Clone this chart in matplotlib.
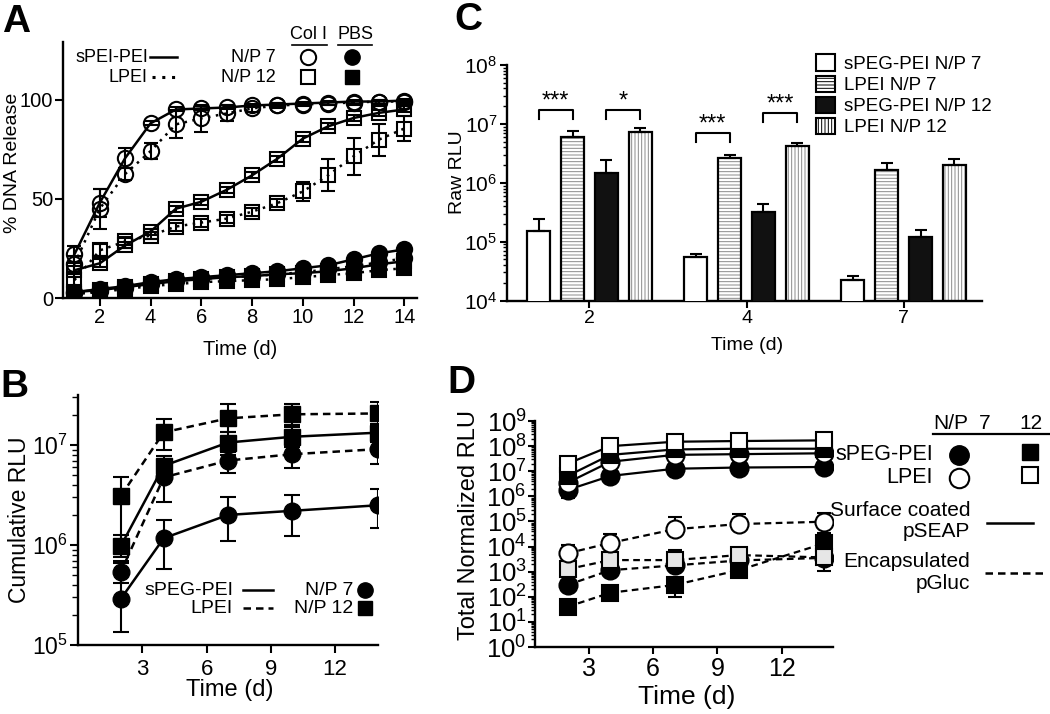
import numpy as np
import matplotlib
matplotlib.use('Agg')
import matplotlib.pyplot as plt
from matplotlib.ticker import LogLocator, NullFormatter

plt.rcParams['font.family'] = ['Liberation Sans', 'DejaVu Sans']
plt.rcParams['mathtext.fontset'] = 'custom'
plt.rcParams['mathtext.rm'] = 'Liberation Sans'
plt.rcParams['mathtext.it'] = 'Liberation Sans:italic'
plt.rcParams['mathtext.bf'] = 'Liberation Sans:bold'
plt.rcParams['hatch.linewidth'] = 0.7

# ---------------- data ----------------
# Panel A: % DNA release vs time
days_a = np.arange(1, 15)
coli_spei_np7 = [22, 48, 70.5, 88, 95, 95.5, 96, 97, 97.5, 98, 98.5, 99, 99, 99.5]
coli_spei_np7_err = [4, 7, 5, 1, 1, 1, 1, 1, 1, 1, 1, 1, 1, 1]
coli_lpei_np7 = [17, 45, 62.5, 74, 87.5, 90.5, 93, 95.5, 97, 97.5, 98, 98.5, 99, 99]
coli_lpei_np7_err = [4, 10, 3, 4, 7, 7, 4, 2, 1.5, 1, 1, 1, 1, 1]
coli_spei_np12 = [14, 17.5, 26.5, 33.5, 45, 48.5, 54.5, 61.8, 70.2, 80.3, 86.5, 90.7, 93.3, 95]
coli_spei_np12_err = [2, 2, 1.5, 1.5, 1.5, 1.5, 1.5, 1.5, 1.5, 1.5, 1.5, 1.5, 1.5, 1.5]
coli_lpei_np12 = [9, 24, 28.5, 31.5, 36, 38, 40, 43.5, 47.8, 53.7, 61.8, 71.4, 79.8, 85.4]
coli_lpei_np12_err = [3, 3, 2, 2, 2, 2, 2, 2, 2, 5, 8, 9.4, 8, 6.5]
pbs_spei_np7 = [3, 4.5, 6, 8, 9.5, 10.5, 11.5, 12.5, 13.5, 15, 16.5, 19.5, 22.5, 24.5]
pbs_lpei_np7 = [2.5, 3.5, 5, 7, 8.5, 9.5, 10.5, 11, 12, 13, 14.5, 16, 18, 20]
pbs_spei_np12 = [3, 4, 5.5, 7, 8.5, 9.5, 10.5, 11, 12, 12.5, 13.5, 15, 17, 18.5]
pbs_lpei_np12 = [2, 3, 4.5, 6, 7, 8, 8.5, 9, 9.5, 10.5, 11.5, 12.5, 14, 15]

# Panel B: cumulative RLU
days_b = [2, 4, 7, 10, 14]
b_spei_np7 = [2.9e5, 1.17e6, 2.0e6, 2.2e6, 2.5e6]
b_spei_np7_lo = [1.36e5, 5.8e5, 1.1e6, 1.24e6, 1.47e6]
b_spei_np7_hi = [6.6e5, 1.78e6, 3.0e6, 3.2e6, 3.6e6]
b_spei_np12 = [9.8e5, 6.2e6, 1.06e7, 1.21e7, 1.33e7]
b_spei_np12_lo = [7.6e5, 4.6e6, 8.0e6, 9.5e6, 1.08e7]
b_spei_np12_hi = [1.25e6, 7.8e6, 1.35e7, 1.5e7, 1.6e7]
b_lpei_np7 = [5.4e5, 4.75e6, 7.0e6, 8.1e6, 9.1e6]
b_lpei_np7_lo = [4.2e5, 2.7e6, 5.3e6, 5.9e6, 6.4e6]
b_lpei_np7_hi = [7.0e5, 6.2e6, 8.6e6, 9.6e6, 1.15e7]
b_lpei_np12 = [3.1e6, 1.34e7, 1.85e7, 2.03e7, 2.07e7]
b_lpei_np12_lo = [1.1e6, 8.9e6, 1.36e7, 1.58e7, 1.62e7]
b_lpei_np12_hi = [4.75e6, 1.82e7, 2.57e7, 2.6e7, 2.7e7]

# Panel C: raw RLU bars
c_days = ['2', '4', '7']
c_labels = ['sPEG-PEI N/P 7', 'LPEI N/P 7', 'sPEG-PEI N/P 12', 'LPEI N/P 12']
c_spei_np7 = [1.5e5, 5.4e4, 2.2e4]
c_spei_np7_err = [9e4, 7e3, 4e3]
c_lpei_np7 = [6.1e6, 2.6e6, 1.67e6]
c_lpei_np7_err = [1.4e6, 3.8e5, 5.3e5]
c_spei_np12 = [1.48e6, 3.2e5, 1.19e5]
c_spei_np12_err = [9.2e5, 1.2e5, 3.6e4]
c_lpei_np12 = [7.2e6, 4.2e6, 2.0e6]
c_lpei_np12_err = [1.3e6, 5e5, 5e5]
# significance: (group, bar a, bar b, log10 height, label)
c_sig = [(0, 0, 1, 7.23, '***'), (0, 2, 3, 7.23, '*'),
         (1, 0, 1, 6.84, '***'), (1, 2, 3, 7.18, '***')]

# Panel D: total normalized RLU
days_d = [2, 4, 7, 10, 14]
d_spei_np7_s = [1.8e6, 6.5e6, 1.26e7, 1.41e7, 1.48e7]
d_spei_np7_s_err = [9e5, 2.7e6, 2e6, 2e6, 2e6]
d_spei_np12_s = [6.5e6, 4.5e7, 7.4e7, 7.9e7, 7.9e7]
d_lpei_np7_s = [3.5e6, 2.4e7, 4.5e7, 4.8e7, 5.2e7]
d_lpei_np12_s = [2.0e7, 1.0e8, 1.5e8, 1.6e8, 1.7e8]
d_lpei_np7_e = [5.4e3, 1.4e4, 4.9e4, 7.9e4, 9.8e4]
d_lpei_np7_e_hi = [6.1e3, 1.7e4, 9.6e4, 1.16e5, 1.1e5]
d_lpei_np12_e = [1.26e3, 2.9e3, 2.9e3, 4.6e3, 3.7e3]
d_lpei_np12_e_lo = [0, 0, 0, 0, 2.6e3]
d_lpei_np12_e_hi = [0, 0, 4.3e3, 0, 0]
d_spei_np7_e = [295, 1150, 1780, 2800, 3550]
d_spei_np12_e = [40, 145, 295, 1150, 1.35e4]
d_spei_np12_e_lo = [0, 0, 200, 0, 0]
d_spei_np12_e_hi = [0, 0, 200, 0, 2e4]

# ---------------- figure ----------------
fig = plt.figure(figsize=(10.5, 7.14), dpi=100)


def style_axes(ax, fs, lw=1.7):
    for s in ['top', 'right']:
        ax.spines[s].set_visible(False)
    for s in ['left', 'bottom']:
        ax.spines[s].set_linewidth(lw)
    ax.tick_params(which='major', direction='out', width=1.5, length=5,
                   labelsize=fs, pad=2)
    ax.tick_params(which='minor', direction='out', width=1.0, length=3)


def key(ax, x, y, **kw):
    ax.plot(x, y, transform=ax.transAxes, clip_on=False, color='black', **kw)


DOT = (0, (1, 2.2))
DASH = (0, (3, 2))

# ----- A -----
axA = fig.add_axes([0.06, 0.5826, 0.3371, 0.3586])
eb = dict(color='black', lw=1.8, mec='black', mew=1.5, capsize=5,
          elinewidth=1.5, capthick=1.5)
axA.errorbar(days_a, pbs_lpei_np12, ls=DOT, marker='s', ms=10, mfc='black', **eb)
axA.errorbar(days_a, pbs_spei_np12, ls='-', marker='s', ms=10, mfc='black', **eb)
axA.errorbar(days_a, pbs_lpei_np7, ls=DOT, marker='o', ms=11, mfc='black', **eb)
axA.errorbar(days_a, pbs_spei_np7, ls='-', marker='o', ms=11, mfc='black', **eb)
axA.errorbar(days_a, coli_lpei_np12, yerr=coli_lpei_np12_err, ls=DOT, marker='s',
             ms=10, mfc='none', **eb)
axA.errorbar(days_a, coli_spei_np12, yerr=coli_spei_np12_err, ls='-', marker='s',
             ms=10, mfc='none', **eb)
axA.errorbar(days_a, coli_lpei_np7, yerr=coli_lpei_np7_err, ls=DOT, marker='o',
             ms=11, mfc='none', **eb)
axA.errorbar(days_a, coli_spei_np7, yerr=coli_spei_np7_err, ls='-', marker='o',
             ms=11, mfc='none', **eb)
axA.set_xlim(0.55, 14.5)
axA.set_ylim(0, 129)
axA.set_xticks([2, 4, 6, 8, 10, 12, 14])
axA.set_yticks([0, 50, 100])
style_axes(axA, 14.5)
axA.tick_params(which='major', length=6, pad=1)
axA.set_xlabel('Time (d)', fontsize=14.5)
axA.set_ylabel('% DNA Release', fontsize=14)
axA.xaxis.set_label_coords(0.5, -0.165)
axA.yaxis.set_label_coords(-0.12, 0.527)

# legend A
axA.text(0.240, 0.941, 'sPEI-PEI', ha='right', va='center', fontsize=13,
         transform=axA.transAxes)
axA.text(0.240, 0.863, 'LPEI', ha='right', va='center', fontsize=13,
         transform=axA.transAxes)
key(axA, [0.246, 0.322], [0.941, 0.941], lw=1.8)
key(axA, [0.251, 0.325], [0.863, 0.863], lw=2.2, ls=DOT)
axA.text(0.602, 0.941, 'N/P 7', ha='right', va='center', fontsize=13,
         transform=axA.transAxes)
axA.text(0.602, 0.863, 'N/P 12', ha='right', va='center', fontsize=13,
         transform=axA.transAxes)
key(axA, [0.692], [0.941], marker='o', ms=11, mfc='none', mew=1.5)
key(axA, [0.816], [0.941], marker='o', ms=11, mfc='black')
key(axA, [0.692], [0.863], marker='s', ms=10, mfc='none', mew=1.5)
key(axA, [0.816], [0.863], marker='s', ms=10, mfc='black')
axA.text(0.695, 0.995, 'Col I', ha='center', va='bottom', fontsize=13,
         transform=axA.transAxes)
axA.text(0.825, 0.995, 'PBS', ha='center', va='bottom', fontsize=13,
         transform=axA.transAxes)
key(axA, [0.647, 0.746], [0.99, 0.99], lw=1.2)
key(axA, [0.777, 0.873], [0.99, 0.99], lw=1.2)

# ----- C -----
axC = fig.add_axes([0.4829, 0.5790, 0.4524, 0.3299])
axC.set_yscale('log')
xc = np.arange(len(c_days))
step, width = 0.216, 0.145
c_vals = [c_spei_np7, c_lpei_np7, c_spei_np12, c_lpei_np12]
c_errs = [c_spei_np7_err, c_lpei_np7_err, c_spei_np12_err, c_lpei_np12_err]
fills = ['white', 'white', '#111111', 'white']
hatches = [None, '-----', None, '|||||']
handles = []
for i, (vals, errs) in enumerate(zip(c_vals, c_errs)):
    pos = xc + (i - 1.5) * step
    if hatches[i]:
        axC.bar(pos, vals, width, bottom=1, color='white', edgecolor='#8a8a8a',
                hatch=hatches[i], lw=0, zorder=2)
    axC.bar(pos, vals, width, bottom=1, facecolor=fills[i] if not hatches[i] else 'none',
            edgecolor='black', lw=1.6, zorder=3)
    axC.errorbar(pos, vals, yerr=[np.zeros(len(vals)), errs], fmt='none',
                 ecolor='black', elinewidth=1.5, capsize=4.5, capthick=1.5, zorder=4)
    h = axC.bar([0], [0], 0, color=fills[i] if not hatches[i] else 'white',
                edgecolor='black', lw=1.5, hatch=hatches[i], label=c_labels[i])
    handles.append(h)
for g, a, b, lvl, lab in c_sig:
    xa = xc[g] + (a - 1.5) * step
    xb = xc[g] + (b - 1.5) * step
    top = 10 ** lvl
    bot = 10 ** (lvl - 0.15)
    axC.plot([xa, xa, xb, xb], [bot, top, top, bot], color='black', lw=1.5, zorder=5)
    axC.text((xa + xb) / 2, 10 ** (lvl - 0.03), lab, ha='center', va='bottom',
             fontsize=17, zorder=5)
axC.set_xlim(-0.525, 2.5)
axC.set_ylim(1e4, 1e8)
axC.set_xticks(xc)
axC.set_xticklabels(c_days)
axC.yaxis.set_major_locator(LogLocator(base=10, numticks=10))
axC.yaxis.set_minor_locator(LogLocator(base=10, subs=np.arange(2, 10), numticks=50))
axC.yaxis.set_minor_formatter(NullFormatter())
style_axes(axC, 14)
axC.tick_params(axis='y', labelsize=15)
axC.set_xlabel('Time (d)', fontsize=14)
axC.set_ylabel('Raw RLU', fontsize=14)
axC.xaxis.set_label_coords(0.505, -0.155)
axC.yaxis.set_label_coords(-0.087, 0.547)
axC.legend(handles=handles, loc='upper left', bbox_to_anchor=(0.65, 1.045),
           frameon=False, fontsize=13.5, handlelength=1.0, handleheight=1.0,
           handletextpad=0.5, labelspacing=0.12, borderpad=0, borderaxespad=0)

# ----- B -----
axB = fig.add_axes([0.0743, 0.0966, 0.2857, 0.3501])
axB.set_yscale('log')
ebb = dict(color='black', lw=1.8, mec='black', mfc='black', capsize=6,
           elinewidth=1.5, capthick=1.5)


def asym(v, lo, hi):
    v = np.array(v)
    return [v - np.array(lo), np.array(hi) - v]


axB.errorbar(days_b, b_lpei_np12, yerr=asym(b_lpei_np12, b_lpei_np12_lo, b_lpei_np12_hi),
             ls=DASH, marker='s', ms=11, **ebb)
axB.errorbar(days_b, b_spei_np12, yerr=asym(b_spei_np12, b_spei_np12_lo, b_spei_np12_hi),
             ls='-', marker='s', ms=11, **ebb)
axB.errorbar(days_b, b_lpei_np7, yerr=asym(b_lpei_np7, b_lpei_np7_lo, b_lpei_np7_hi),
             ls=DASH, marker='o', ms=12, **ebb)
axB.errorbar(days_b, b_spei_np7, yerr=asym(b_spei_np7, b_spei_np7_lo, b_spei_np7_hi),
             ls='-', marker='o', ms=12, **ebb)
axB.set_xlim(0, 14)
axB.set_ylim(1e5, 10 ** 7.5)
axB.set_xticks([3, 6, 9, 12])
axB.yaxis.set_major_locator(LogLocator(base=10, numticks=10))
axB.yaxis.set_minor_locator(LogLocator(base=10, subs=np.arange(2, 10), numticks=50))
axB.yaxis.set_minor_formatter(NullFormatter())
style_axes(axB, 16)
axB.tick_params(axis='y', labelsize=16.5, pad=1)
axB.tick_params(which='major', length=6)
axB.tick_params(axis='x', pad=4)
axB.tick_params(which='minor', length=4)
axB.set_xlabel('Time (d)', fontsize=17)
axB.set_ylabel('Cumulative RLU', fontsize=16.5)
axB.xaxis.set_label_coords(0.507, -0.135)
axB.yaxis.set_label_coords(-0.158, 0.5)

axB.text(0.517, 0.22, 'sPEG-PEI', ha='right', va='center', fontsize=14,
         transform=axB.transAxes)
axB.text(0.517, 0.148, 'LPEI', ha='right', va='center', fontsize=14,
         transform=axB.transAxes)
key(axB, [0.55, 0.65], [0.22, 0.22], lw=1.8)
key(axB, [0.55, 0.65], [0.148, 0.148], lw=1.8, ls=DASH)
axB.text(0.918, 0.22, 'N/P 7', ha='right', va='center', fontsize=14,
         transform=axB.transAxes)
axB.text(0.918, 0.148, 'N/P 12', ha='right', va='center', fontsize=14,
         transform=axB.transAxes)
key(axB, [0.957], [0.22], marker='o', ms=11, mfc='black')
key(axB, [0.957], [0.148], marker='s', ms=10, mfc='black')

# ----- D -----
axD = fig.add_axes([0.5095, 0.0938, 0.2838, 0.3165])
axD.set_yscale('log')
ebd = dict(color='black', lw=1.6, mec='black', mew=1.5, capsize=5,
           elinewidth=1.5, capthick=1.5)
# encapsulated pGluc (dashed)
axD.errorbar(days_d, d_spei_np12_e, yerr=[d_spei_np12_e_lo, d_spei_np12_e_hi],
             ls=DASH, marker='s', ms=12, mfc='black', **ebd)
axD.errorbar(days_d, d_spei_np7_e, ls=DASH, marker='o', ms=13, mfc='black', **ebd)
axD.errorbar(days_d, d_lpei_np12_e, yerr=[d_lpei_np12_e_lo, d_lpei_np12_e_hi],
             ls=DASH, marker='s', ms=12, mfc='#e6e6e6', **ebd)
axD.errorbar(days_d, d_lpei_np7_e, yerr=[np.zeros(5), d_lpei_np7_e_hi],
             ls=DASH, marker='o', ms=13, mfc='white', **ebd)
# surface coated pSEAP (solid)
axD.errorbar(days_d, d_spei_np7_s, yerr=d_spei_np7_s_err, ls='-', marker='o',
             ms=13, mfc='black', **ebd)
axD.errorbar(days_d, d_lpei_np7_s, ls='-', marker='o', ms=13, mfc='white', **ebd)
axD.errorbar(days_d, d_spei_np12_s, ls='-', marker='s', ms=12, mfc='black', **ebd)
axD.errorbar(days_d, d_lpei_np12_s, ls='-', marker='s', ms=12, mfc='white', **ebd)
axD.set_xlim(0.48, 14.4)
axD.set_ylim(1, 1e9)
axD.set_xticks([3, 6, 9, 12])
axD.yaxis.set_major_locator(LogLocator(base=10, numticks=20))
axD.yaxis.set_minor_locator(LogLocator(base=10, subs=np.arange(2, 10), numticks=100))
axD.yaxis.set_minor_formatter(NullFormatter())
style_axes(axD, 18)
axD.tick_params(axis='y', labelsize=18.5, pad=1)
axD.set_xlabel('Time (d)', fontsize=19)
axD.set_ylabel('Total Normalized RLU', fontsize=17)
axD.xaxis.set_label_coords(0.51, -0.17)
axD.yaxis.set_label_coords(-0.185, 0.54)

axD.text(1.336, 0.987, 'N/P', ha='left', va='center', fontsize=15,
         transform=axD.transAxes)
axD.text(1.51, 0.987, '7', ha='center', va='center', fontsize=15,
         transform=axD.transAxes)
axD.text(1.664, 0.987, '12', ha='center', va='center', fontsize=15,
         transform=axD.transAxes)
key(axD, [1.336, 1.73], [0.942, 0.942], lw=1.6)
axD.text(1.336, 0.85, 'sPEG-PEI', ha='right', va='center', fontsize=15.5,
         transform=axD.transAxes)
axD.text(1.336, 0.748, 'LPEI', ha='right', va='center', fontsize=15.5,
         transform=axD.transAxes)
key(axD, [1.423], [0.85], marker='o', ms=14, mfc='black')
key(axD, [1.661], [0.863], marker='s', ms=12, mfc='black')
key(axD, [1.423], [0.748], marker='o', ms=14, mfc='white', mew=1.5)
key(axD, [1.661], [0.761], marker='s', ms=12, mfc='white', mew=1.5)
axD.text(1.46, 0.558, 'Surface coated\npSEAP', ha='right', va='center', fontsize=15,
         multialignment='right', linespacing=1.15, transform=axD.transAxes)
axD.text(1.46, 0.33, 'Encapsulated\npGluc', ha='right', va='center', fontsize=15,
         multialignment='right', linespacing=1.15, transform=axD.transAxes)
key(axD, [1.517, 1.671], [0.549, 0.549], lw=1.8)
key(axD, [1.51, 1.711], [0.327, 0.327], lw=1.8, ls=DASH)

# panel letters
for lbl, x, y in [('A', 0.002, 0.955), ('C', 0.433, 0.958),
                  ('B', 0.0, 0.444), ('D', 0.426, 0.45)]:
    fig.text(x, y, lbl, fontsize=28, fontweight='bold', va='baseline', ha='left')

fig.savefig('out.png', dpi=100)
